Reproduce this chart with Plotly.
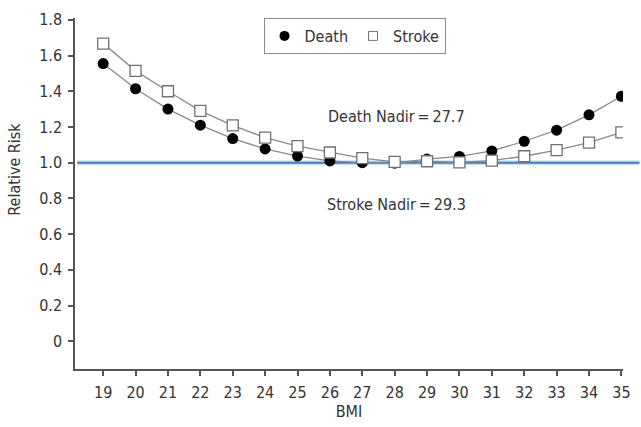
import plotly.graph_objects as go

# Relative risk by BMI
bmi = [19, 20, 21, 22, 23, 24, 25, 26, 27, 28, 29, 30, 31, 32, 33, 34, 35]
death_rr = [1.555, 1.414, 1.30, 1.21, 1.135, 1.077, 1.037, 1.01, 1.0, 0.997, 1.02,
            1.035, 1.066, 1.12, 1.182, 1.268, 1.372]
stroke_rr = [1.667, 1.514, 1.40, 1.29, 1.209, 1.14, 1.093, 1.057, 1.025, 1.005, 1.008,
             1.002, 1.011, 1.036, 1.07, 1.112, 1.17]

y_ticks = [0, 0.2, 0.4, 0.6, 0.8, 1.0, 1.2, 1.4, 1.6, 1.8]
y_tick_text = ["0", "0.2", "0.4", "0.6", "0.8", "1.0", "1.2", "1.4", "1.6", "1.8"]

reference_rr = 1.0
death_nadir = 27.7
stroke_nadir = 29.3

FONT = "DejaVu Sans Condensed, Liberation Sans Narrow, Roboto, sans-serif"
AXIS_COLOR = "#555555"
TEXT_COLOR = "#333333"
FS = 16

death_marker = dict(symbol="circle", size=11, color="#000000",
                    line=dict(color="#000000", width=0))
stroke_marker = dict(symbol="square", size=11, color="#ffffff",
                     line=dict(color="#707070", width=1.3))

fig = go.Figure()

fig.add_trace(go.Scatter(
    x=bmi, y=death_rr, name="Death", mode="lines+markers",
    line=dict(color="#8a8a8a", width=1.3), marker=death_marker, showlegend=False,
))
fig.add_trace(go.Scatter(
    x=bmi, y=stroke_rr, name="Stroke", mode="lines+markers",
    line=dict(color="#8a8a8a", width=1.3), marker=stroke_marker, showlegend=False,
))
# Marker-only legend entries
fig.add_trace(go.Scatter(x=[None], y=[None], name="Death", mode="markers",
                         marker=dict(death_marker, size=10)))
fig.add_trace(go.Scatter(x=[None], y=[None], name="Stroke", mode="markers",
                         marker=dict(stroke_marker, size=9, line=dict(color="#707070", width=1))))

# Reference line at RR = 1.0, with a soft halo
fig.add_shape(type="line", xref="paper", yref="y", x0=0.004, x1=1.03,
              y0=reference_rr, y1=reference_rr,
              line=dict(color="rgba(120,160,210,0.35)", width=5), layer="below")
fig.add_shape(type="line", xref="paper", yref="y", x0=0.004, x1=1.03,
              y0=reference_rr, y1=reference_rr,
              line=dict(color="#3f7ec4", width=2), layer="below")

fig.add_annotation(x=28.05, y=1.258, xref="x", yref="y",
                   text=f"Death Nadir\u2009=\u2009{death_nadir}", showarrow=False,
                   font=dict(family=FONT, size=FS, color=TEXT_COLOR))
fig.add_annotation(x=28.05, y=0.764, xref="x", yref="y",
                   text=f"Stroke Nadir\u2009=\u2009{stroke_nadir}", showarrow=False,
                   font=dict(family=FONT, size=FS, color=TEXT_COLOR))

# Y axis title placed as a rotated label
fig.add_annotation(x=-75 / 553 + 14 / 553, y=(370 - 165) / 360, xref="paper", yref="paper",
                   text="Relative Risk", textangle=-90, showarrow=False,
                   xanchor="center", yanchor="middle",
                   font=dict(family=FONT, size=FS, color=TEXT_COLOR))

fig.update_layout(
    width=641, height=427,
    margin=dict(l=75, r=13, t=10, b=57),
    paper_bgcolor="#ffffff", plot_bgcolor="#ffffff",
    font=dict(family=FONT, size=FS, color=TEXT_COLOR),
    showlegend=True,
    legend=dict(orientation="h", x=0.344, y=1.0, xanchor="left", yanchor="top",
                bordercolor="#8a8a8a", borderwidth=1, bgcolor="#ffffff",
                font=dict(family=FONT, size=FS, color=TEXT_COLOR),
                itemwidth=30, tracegroupgap=0),
    xaxis=dict(
        range=[18.13, 35.05], tickmode="array", tickvals=bmi,
        ticktext=[str(v) for v in bmi],
        showgrid=False, zeroline=False, showline=True, linecolor=AXIS_COLOR,
        linewidth=1.5, ticks="outside", ticklen=5, tickcolor=AXIS_COLOR,
        tickwidth=1.5, ticklabelstandoff=3,
        title=dict(text="BMI", standoff=4,
                   font=dict(family=FONT, size=FS, color=TEXT_COLOR)),
    ),
    yaxis=dict(
        range=[-0.155, 1.81], tickmode="array", tickvals=y_ticks,
        ticktext=y_tick_text,
        showgrid=False, zeroline=False, showline=True, linecolor=AXIS_COLOR,
        linewidth=1.5, ticks="outside", ticklen=5, tickcolor=AXIS_COLOR,
        tickwidth=1.5, ticklabelstandoff=3,
    ),
)

fig.write_html("out.html")
